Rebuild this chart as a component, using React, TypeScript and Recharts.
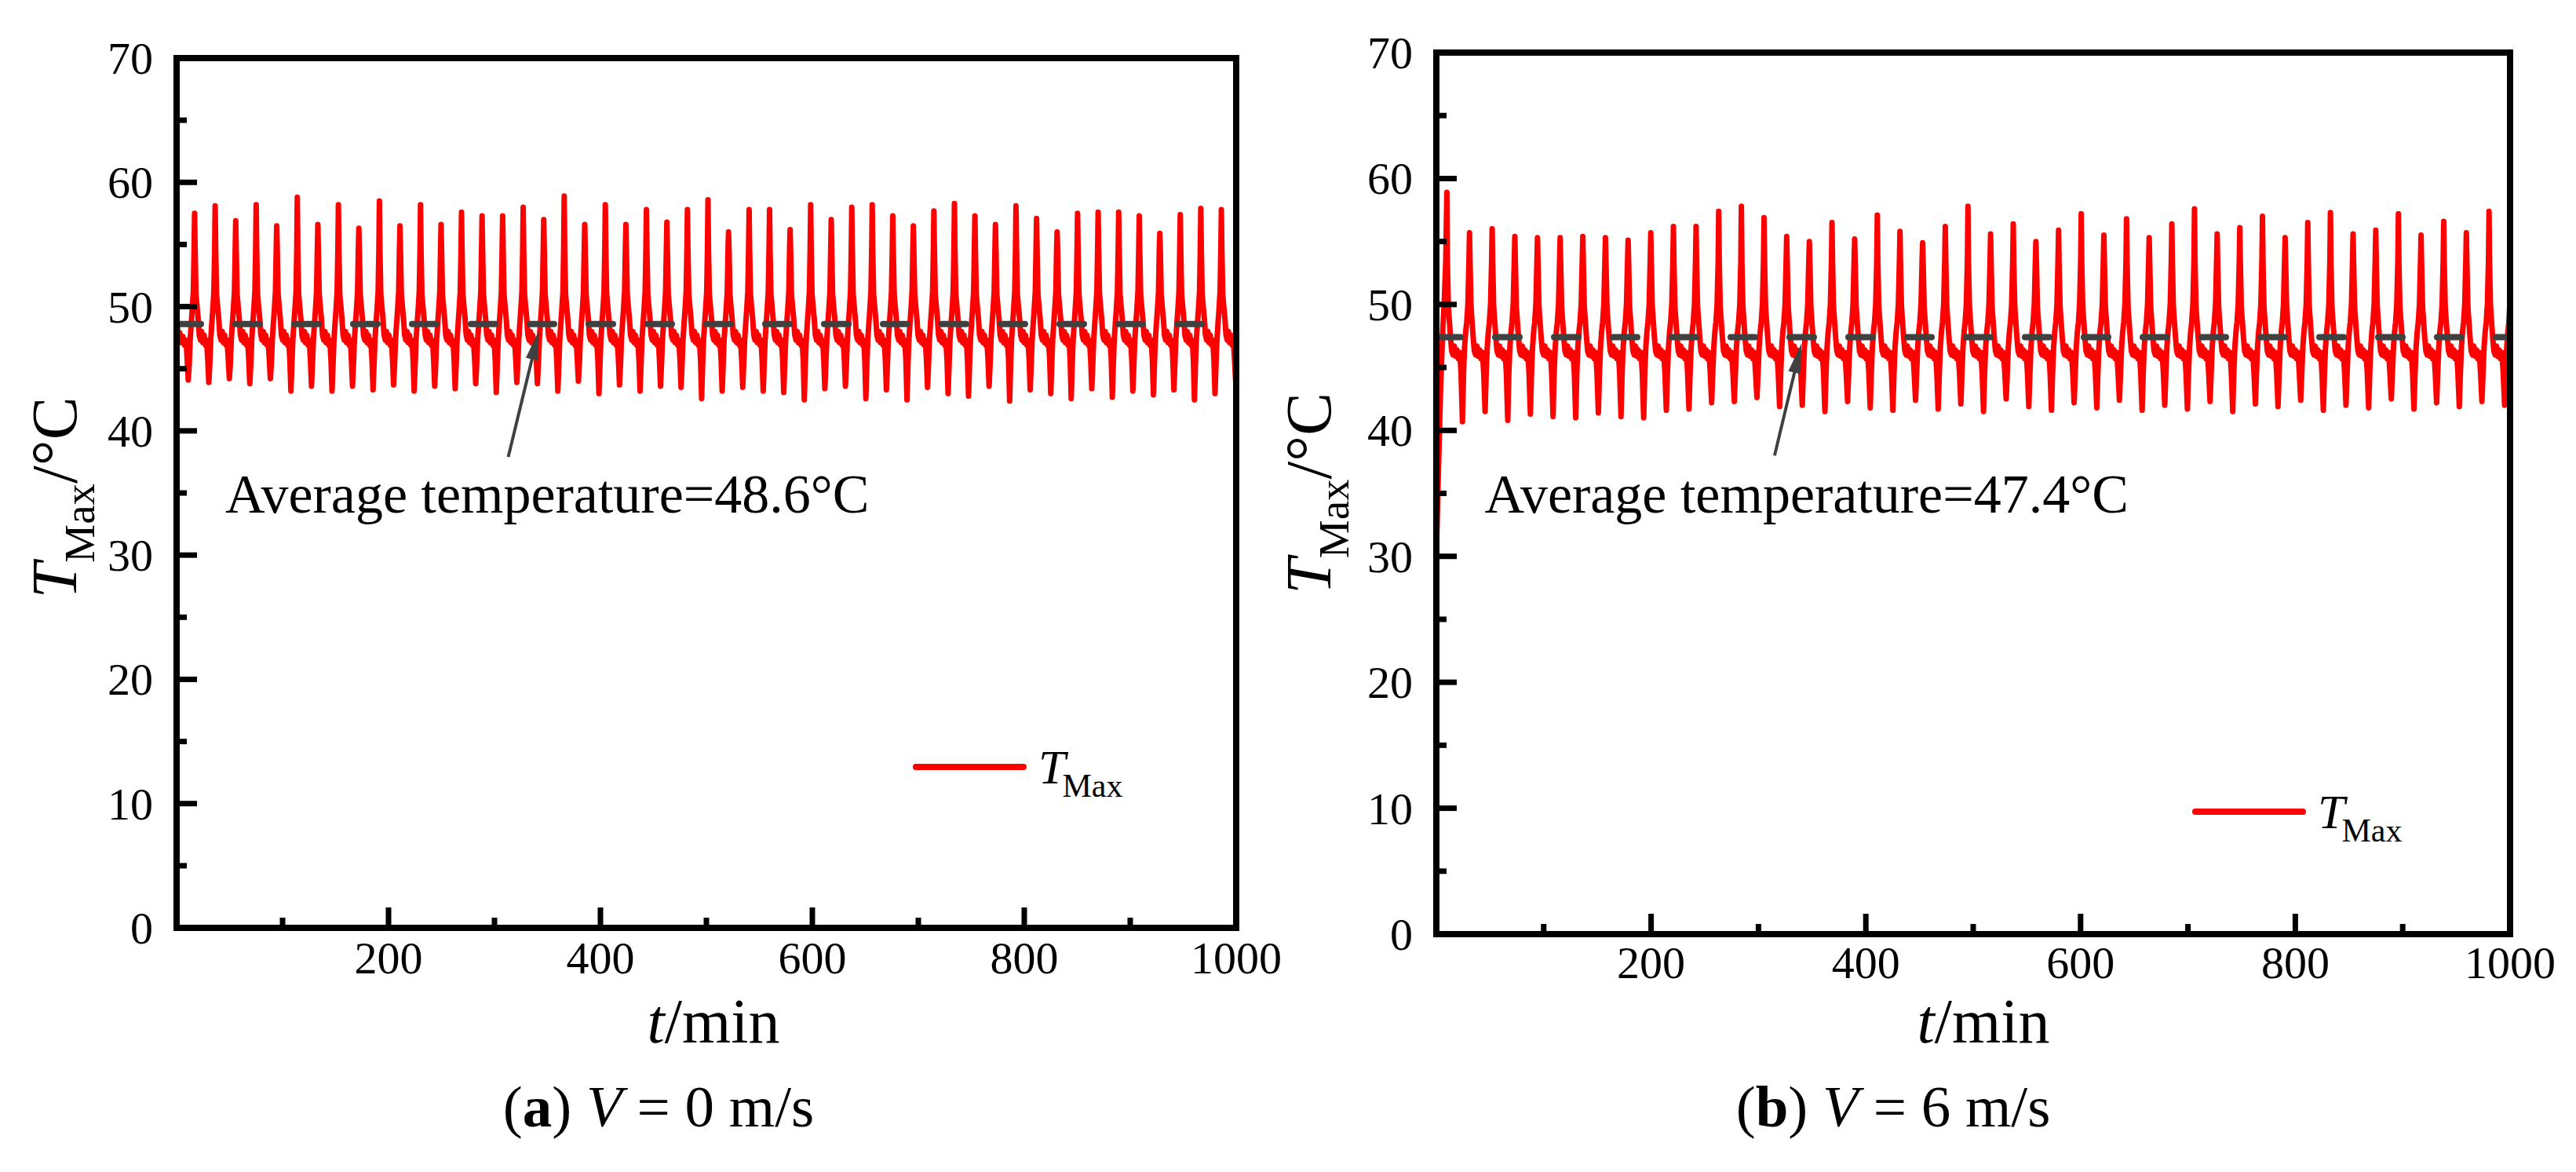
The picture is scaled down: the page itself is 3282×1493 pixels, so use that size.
import React from 'react';
import { LineChart, Line, XAxis, YAxis, ReferenceLine, ReferenceDot, Legend, Label } from 'recharts';

const FONT = "'Liberation Serif', 'Times New Roman', Times, serif";
const TXT = { fontFamily: FONT };

// ---------- axis ticks ----------
const xTicks = [0, 100, 200, 300, 400, 500, 600, 700, 800, 900, 1000];
const yTicks = [0, 5, 10, 15, 20, 25, 30, 35, 40, 45, 50, 55, 60, 65, 70];

// ---------- panel (a): V = 0 m/s ----------
const aLead = [[0, 49.7], [1.5, 47.2], [3.0, 47.9], [4.5, 47.1], [6.0, 47.6], [7.5, 46.9], [9.0, 47.3]];
const aPeakTimes = [17.0, 36.4, 55.8, 75.1, 94.5, 113.9, 133.3, 152.7, 172.0, 191.4, 210.8, 230.2, 249.6, 268.9, 288.3,
  307.7, 327.1, 346.5, 365.8, 385.2, 404.6, 424.0, 443.4, 462.7, 482.1, 501.5, 520.9, 540.3, 559.6, 579.0, 598.4, 617.8,
  637.2, 656.5, 675.9, 695.3, 714.7, 734.1, 753.4, 772.8, 792.2, 811.6, 831.0, 850.3, 869.7, 889.1, 908.5, 927.9, 947.2,
  966.6, 986.0];
const aPeakValues = [57.5, 58.1, 56.9, 58.2, 56.5, 58.8, 56.6, 58.2, 56.3, 58.5, 56.5, 58.2, 56.6, 57.6, 57.3, 57.3, 58.0,
  57.0, 58.9, 56.6, 58.2, 56.6, 57.8, 56.8, 57.8, 58.6, 56.0, 57.8, 57.8, 56.2, 58.2, 57.0, 58.0, 58.2, 57.3, 56.5, 57.7,
  58.3, 57.3, 56.6, 58.1, 57.1, 56.0, 57.5, 57.6, 57.6, 57.3, 55.9, 57.4, 57.9, 57.8];
const aDipValues = [44.1, 43.9, 44.2, 43.8, 44.2, 43.2, 43.6, 43.2, 43.6, 43.3, 43.7, 43.2, 43.6, 43.4, 43.8, 43.1, 43.9,
  43.8, 43.2, 44.0, 43.0, 43.7, 43.2, 43.6, 43.5, 42.6, 43.2, 43.5, 43.2, 43.1, 42.5, 43.4, 43.6, 42.6, 43.3, 42.5, 43.5,
  43.0, 42.8, 43.6, 42.4, 43.3, 43.0, 42.6, 43.4, 42.7, 43.2, 42.9, 43.3, 42.5, 43.0];
const aDipBefore = 6.0;
const aRise = [[-7.0, 45.7], [-5.0, 45.5], [-4.2, 47.3], [-3.2, 48.6], [-2.2, 49.8], [-1.2, 51.2], [-0.5, 54.5]];
const aFall = [[0.5, 54.5], [1.3, 51.0], [2.4, 49.9], [3.4, 49.0], [4.4, 47.7], [5.6, 47.3], [6.7, 48.0], [7.8, 47.1],
  [9.0, 47.7], [10.2, 46.9], [11.3, 47.3]];
const aTail = [[998.6, 45.5], [1000, 43.2]];
const aAverage = 48.6;

// ---------- panel (b): V = 6 m/s ----------
const bLead = [[0, 30.3], [2.0, 37.0], [4.0, 43.5], [6.0, 48.0], [7.5, 50.5], [8.8, 53.5]];
const bPeakTimes = [9.8, 30.9, 52.0, 73.1, 94.2, 115.3, 136.4, 157.5, 178.6, 199.7, 220.8, 241.9, 263.0, 284.1, 305.2,
  326.3, 347.4, 368.5, 389.6, 410.7, 431.8, 452.9, 474.0, 495.1, 516.2, 537.3, 558.4, 579.5, 600.6, 621.7, 642.8, 663.9,
  685.0, 706.1, 727.2, 748.3, 769.4, 790.5, 811.6, 832.7, 853.8, 874.9, 896.0, 917.1, 938.2, 959.3, 980.4];
const bPeakValues = [58.9, 55.7, 56.0, 55.4, 55.3, 55.3, 55.4, 55.3, 55.1, 55.7, 56.2, 56.2, 57.4, 57.8, 56.9, 55.4, 55.0,
  56.5, 55.2, 57.1, 55.8, 54.9, 56.2, 57.8, 55.6, 56.4, 55.0, 55.9, 57.2, 55.5, 56.8, 55.3, 56.4, 57.6, 55.6, 56.1, 57.0,
  55.3, 56.5, 57.3, 55.6, 55.9, 57.2, 55.5, 56.6, 55.7, 57.4];
const bDipValues: (number | null)[] = [null, 40.7, 41.5, 40.8, 41.3, 41.1, 41.0, 41.4, 41.1, 41.0, 41.6, 41.7, 42.2, 42.3,
  42.6, 41.9, 42.0, 41.5, 42.3, 41.8, 41.6, 42.4, 41.7, 42.1, 41.5, 42.5, 41.9, 41.6, 42.2, 41.8, 42.4, 41.6, 42.0, 41.7,
  42.3, 41.5, 42.1, 41.9, 42.4, 41.6, 42.0, 41.8, 42.5, 41.7, 42.2, 41.9, 42.3];
const bDipBefore = 6.6;
const bRise = [[-5.6, 44.5], [-4.6, 46.6], [-3.6, 47.8], [-2.6, 48.6], [-1.5, 50.0], [-0.5, 53.5]];
const bFall = [[0.5, 53.3], [1.4, 49.8], [2.5, 48.5], [3.5, 47.3], [4.5, 46.3], [5.7, 46.0], [6.9, 46.7], [8.1, 45.9],
  [9.4, 46.4], [10.7, 45.7], [12.0, 46.2], [13.2, 44.6]];
const bTail = [[994.9, 42.0], [995.9, 44.5], [996.9, 46.6], [997.9, 47.8], [998.9, 48.6], [1000, 50.5]];
const bAverage = 47.4;

type Pt = { t: number; v: number };

function assemble(
  lead: number[][], peakT: number[], peakV: number[], dipV: (number | null)[], dipBefore: number,
  rise: number[][], fall: number[][], tail: number[][]
): Pt[] {
  const pts: number[][] = lead.map((p) => [p[0], p[1]]);
  peakT.forEach((tp, i) => {
    const d = dipV[i];
    if (d != null) {
      pts.push([tp - dipBefore, d]);
      rise.forEach(([o, v]) => pts.push([tp + o, v]));
    }
    pts.push([tp, peakV[i]]);
    fall.forEach(([o, v]) => pts.push([tp + o, v]));
  });
  tail.forEach((p) => pts.push([p[0], p[1]]));
  return pts.sort((a, b) => a[0] - b[0]).map(([t, v]) => ({ t, v }));
}

const dataA = assemble(aLead, aPeakTimes, aPeakValues, aDipValues, aDipBefore, aRise, aFall, aTail);
const dataB = assemble(bLead, bPeakTimes, bPeakValues, bDipValues, bDipBefore, bRise, bFall, bTail);

// ---------- renderers ----------
const AXIS_W = 8;

const makeXTick = (labelOffset: number) => (props: any) => {
  const { x, y, payload } = props;
  const v = payload.value as number;
  const major = v % 200 === 0;
  return (
    <g>
      {v > 0 && v < 1000 && (
        <line x1={x} x2={x} y1={y} y2={y - (major ? 26 : 13)} stroke="#000" strokeWidth={7} />
      )}
      {major && v > 0 && (
        <text x={x} y={y + labelOffset} textAnchor="middle" fontFamily={FONT} style={TXT} fontSize={58} fill="#000">
          {v}
        </text>
      )}
    </g>
  );
};

const YTick = (props: any) => {
  const { x, y, payload } = props;
  const v = payload.value as number;
  const major = v % 10 === 0;
  return (
    <g>
      {v > 0 && v < 70 && (
        <line x1={x} x2={x + (major ? 26 : 13)} y1={y} y2={y} stroke="#000" strokeWidth={7} />
      )}
      {major && (
        <text x={x - 30} y={y + 20} textAnchor="end" fontFamily={FONT} style={TXT} fontSize={58} fill="#000">
          {v}
        </text>
      )}
    </g>
  );
};

const makeYTitle = (fromAxis: number, dy: number) => (props: any) => {
  const vb = props.viewBox || {};
  const cx = vb.x + vb.width - fromAxis;
  const cy = vb.y + vb.height / 2 + dy;
  return (
    <text transform={`rotate(-90 ${cx} ${cy})`} x={cx} y={cy} textAnchor="middle" fontFamily={FONT} style={TXT}
      fontSize={82} fill="#000">
      <tspan fontStyle="italic">T</tspan>
      <tspan fontSize={55} dy={23}>Max</tspan>
      <tspan dy={-23}>/°C</tspan>
    </text>
  );
};

const makeXTitle = (titleDx: number, titleDy: number, capDx: number, capDy: number, letter: string, speed: string) =>
  (props: any) => {
    const vb = props.viewBox || {};
    const mid = vb.x + vb.width / 2;
    return (
      <g>
        <text x={mid + titleDx} y={vb.y + titleDy} textAnchor="middle" fontFamily={FONT} style={TXT} fontSize={80} fill="#000">
          <tspan fontStyle="italic">t</tspan>
          <tspan>/min</tspan>
        </text>
        <text x={mid + capDx} y={vb.y + capDy} textAnchor="middle" fontFamily={FONT} style={TXT} fontSize={75} fill="#000">
          <tspan>(</tspan>
          <tspan fontWeight="bold">{letter}</tspan>
          <tspan>{') '}</tspan>
          <tspan fontStyle="italic">V</tspan>
          <tspan>{` = ${speed} m/s`}</tspan>
        </text>
      </g>
    );
  };

const Arrow = (p: any) => {
  const { x1, y1, x2, y2 } = p;
  const dx = x2 - x1;
  const dy = y2 - y1;
  const len = Math.hypot(dx, dy) || 1;
  const ux = dx / len;
  const uy = dy / len;
  const hl = 38;
  const hw = 8;
  const bx = x2 - ux * hl;
  const by = y2 - uy * hl;
  return (
    <g>
      <line x1={x1} y1={y1} x2={bx + ux * 3} y2={by + uy * 3} stroke="#404040" strokeWidth={4} />
      <polygon points={`${x2},${y2} ${bx - uy * hw},${by + ux * hw} ${bx + uy * hw},${by - ux * hw}`} fill="#404040" />
    </g>
  );
};

const makeNote = (txt: string) => (p: any) => (
  <text x={p.cx} y={p.cy} fontFamily={FONT} style={TXT} fontSize={70} fill="#000">
    {txt}
  </text>
);

const LegendBox = () => (
  <svg width={320} height={110} style={{ overflow: 'visible', display: 'block' }}>
    <line x1={7} x2={144} y1={50} y2={50} stroke="#FF0000" strokeWidth={8} strokeLinecap="round" />
    <text x={163} y={71} fontFamily={FONT} style={TXT} fontSize={62} fill="#000">
      <tspan fontStyle="italic">T</tspan>
      <tspan fontSize={42} dy={17} dx={-4}>Max</tspan>
    </text>
  </svg>
);

type PanelProps = {
  data: Pt[];
  width: number;
  yAxisW: number;
  xAxisH: number;
  margin: { top: number; right: number; bottom: number; left: number };
  average: number;
  note: string;
  noteAt: { x: number; y: number };
  arrow: { x: number; y: number }[];
  legendPos: { left: number; top: number };
  yTitle: (p: any) => any;
  xTitle: (p: any) => any;
  xLabelOffset: number;
};

function Panel(p: PanelProps) {
  return (
    <LineChart width={p.width} height={1493} data={p.data} margin={p.margin}>
      <XAxis
        dataKey="t"
        type="number"
        domain={[0, 1000]}
        ticks={xTicks}
        interval={0}
        height={p.xAxisH}
        tickSize={0}
        tickMargin={0}
        tickLine={false}
        tick={makeXTick(p.xLabelOffset)}
        axisLine={{ stroke: '#000', strokeWidth: AXIS_W, strokeLinecap: 'square' }}
        allowDataOverflow
      >
        <Label content={p.xTitle} />
      </XAxis>
      <YAxis
        type="number"
        domain={[0, 70]}
        ticks={yTicks}
        interval={0}
        width={p.yAxisW}
        tickSize={0}
        tickMargin={0}
        tickLine={false}
        tick={YTick}
        axisLine={{ stroke: '#000', strokeWidth: AXIS_W, strokeLinecap: 'square' }}
        allowDataOverflow
      >
        <Label content={p.yTitle} />
      </YAxis>
      <Line
        type="linear"
        dataKey="v"
        name="TMax"
        stroke="#FF0000"
        strokeWidth={7}
        strokeLinejoin="round"
        dot={false}
        activeDot={false}
        isAnimationActive={false}
      />
      <ReferenceLine y={p.average} stroke="#404040" strokeWidth={8} strokeDasharray="31 44" strokeLinecap="round" />
      <ReferenceLine segment={p.arrow} shape={Arrow} />
      <ReferenceDot x={p.noteAt.x} y={p.noteAt.y} r={1} shape={makeNote(p.note)} />
      <ReferenceLine y={70} stroke="#000" strokeWidth={AXIS_W} strokeLinecap="square" />
      <ReferenceLine x={1000} stroke="#000" strokeWidth={AXIS_W} strokeLinecap="square" />
      <Legend
        layout="horizontal"
        verticalAlign="middle"
        align="center"
        content={LegendBox}
        wrapperStyle={{ left: p.legendPos.left, top: p.legendPos.top, width: 320, height: 110 }}
      />
    </LineChart>
  );
}

export default function App() {
  return (
    <div style={{ position: 'absolute', left: 0, top: 0, width: 3282, height: 1493, background: '#fff', overflow: 'hidden' }}>
      <div style={{ position: 'absolute', left: 0, top: 0 }}>
        <Panel
          data={dataA}
          width={1660}
          yAxisW={225}
          xAxisH={311}
          margin={{ top: 74, right: 85, bottom: 0, left: 0 }}
          average={aAverage}
          note="Average temperature=48.6°C"
          noteAt={{ x: 46, y: 33.4 }}
          arrow={[{ x: 313, y: 37.9 }, { x: 342, y: 48.1 }]}
          legendPos={{ left: 1160, top: 927 }}
          yTitle={makeYTitle(128, 6)}
          xTitle={makeXTitle(9, 146, -61, 253, 'a', '0')}
          xLabelOffset={58}
        />
      </div>
      <div style={{ position: 'absolute', left: 1600, top: 0 }}>
        <Panel
          data={dataB}
          width={1682}
          yAxisW={230}
          xAxisH={303}
          margin={{ top: 67, right: 84, bottom: 0, left: 0 }}
          average={bAverage}
          note="Average temperature=47.4°C"
          noteAt={{ x: 45, y: 33.5 }}
          arrow={[{ x: 315, y: 38.0 }, { x: 340, y: 46.9 }]}
          legendPos={{ left: 1190, top: 984 }}
          yTitle={makeYTitle(135, 0)}
          xTitle={makeXTitle(13, 138, -102, 245, 'b', '6')}
          xLabelOffset={56}
        />
      </div>
    </div>
  );
}
